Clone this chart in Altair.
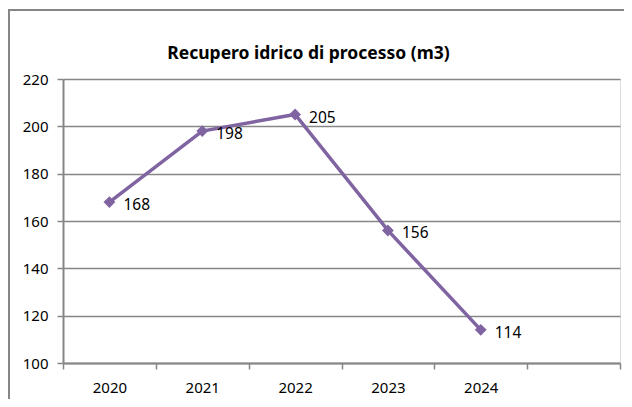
import altair as alt
import pandas as pd

years = ["2020", "2021", "2022", "2023", "2024"]
values = [168, 198, 205, 156, 114]
x_domain = years + [""]
y_ticks = [100, 120, 140, 160, 180, 200, 220]
title_text = "Recupero idrico di processo (m3)"

df = pd.DataFrame({"anno": years, "valore": values})
one = pd.DataFrame({"k": [0]})

W, H = 557, 284
FONT = "Noto Sans"
GRAY = "#868686"
PURPLE = "#8064A2"

x_enc = alt.X(
    "anno:N",
    sort=x_domain,
    scale=alt.Scale(type="band", domain=x_domain, paddingInner=0, paddingOuter=0),
    axis=alt.Axis(
        title=None, labelAngle=0, tickBand="extent", grid=False,
        domainColor=GRAY, domainWidth=2, tickColor=GRAY, tickWidth=1.5,
        tickSize=6, labelFont=FONT, labelFontSize=15, labelColor="black",
        labelPadding=11,
    ),
)
y_enc = alt.Y(
    "valore:Q",
    scale=alt.Scale(domain=[100, 220], nice=False, zero=False),
    axis=alt.Axis(
        title=None, values=y_ticks, grid=True, gridColor=GRAY, gridWidth=1.5,
        domainColor=GRAY, domainWidth=2, tickColor=GRAY, tickWidth=1.5,
        tickSize=6, labelFont=FONT, labelFontSize=15, labelColor="black",
        labelPadding=9,
    ),
)

base = alt.Chart(df).encode(x=x_enc, y=y_enc)

line = base.mark_line(color=PURPLE, strokeWidth=3.5)
pts = base.mark_point(shape="diamond", filled=True, size=140, color=PURPLE, opacity=1)
labels = base.mark_text(align="left", baseline="middle", dx=14, dy=3,
                        font=FONT, fontSize=15.5, color="black").encode(
    text=alt.Text("valore:Q"))

border_left = alt.Chart(one).mark_rule(color=GRAY, strokeWidth=2).encode(
    x=alt.value(-54), y=alt.value(-69), y2=alt.value(H + 60))
border_top = alt.Chart(one).mark_rule(color=GRAY, strokeWidth=2).encode(
    x=alt.value(-55), x2=alt.value(W + 40), y=alt.value(-69))
title = alt.Chart(one).mark_text(
    text=title_text, font=FONT, fontSize=17.5, fontWeight="bold", color="black",
    align="center", baseline="middle").encode(
    x=alt.value(W / 2 - 33), y=alt.value(-25))

chart = alt.layer(border_left, border_top, title, line, pts, labels).properties(
    width=W, height=H,
    autosize=alt.AutoSizeParams(type="none"),
    padding={"left": 55, "top": 71, "right": 4, "bottom": 36},
).configure_view(stroke=None).configure(background="white")

chart.save("out.html", embed_options={"renderer": "svg", "actions": False})
